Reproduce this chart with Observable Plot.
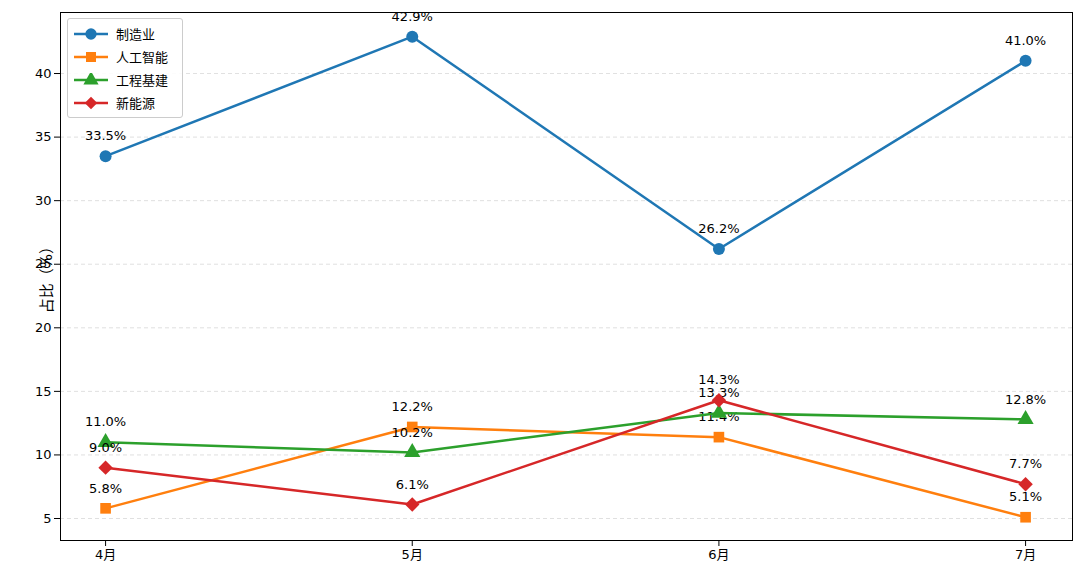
<!DOCTYPE html>
<html><head><meta charset="utf-8">
<script src="https://cdn.jsdelivr.net/npm/d3@7"></script>
<script src="https://cdn.jsdelivr.net/npm/@observablehq/plot@0.6"></script>
<style>
body{margin:0;background:#fff;font-family:"DejaVu Sans","Noto Sans CJK SC",sans-serif}
#wrap{position:relative;width:1080px;height:575px}
#legend{position:absolute;left:67px;top:18px;width:114px;border:1px solid #ccc;border-radius:3px;background:rgba(255,255,255,0.9);padding:3px 0;font-size:13px}
.li{display:flex;align-items:center;height:23px}
.li svg{margin-left:6px;margin-right:8px}
#ylab{position:absolute;left:8px;top:276px;transform:translate(0,-50%) rotate(-90deg);transform-origin:center;font-size:15px;white-space:nowrap}
</style></head><body>
<div id="wrap"><div id="chart"></div><div id="legend"></div><div id="ylab">占比（%）</div></div>
<script>
const months=["4月","5月","6月","7月"];
const seriesNames=["制造业","人工智能","工程基建","新能源"];
const manufacturing=[33.5,42.9,26.2,41.0];
const ai=[5.8,12.2,11.4,5.1];
const infra=[11.0,10.2,13.3,12.8];
const energy=[9.0,6.1,14.3,7.7];
const colors=["#1f77b4","#ff7f0e","#2ca02c","#d62728"];
const symbols=["circle","square","triangle","diamond2"];
const vals=[manufacturing,ai,infra,energy];
const data=[];
vals.forEach((arr,s)=>arr.forEach((v,i)=>data.push({s:seriesNames[s],i,v})));
const marks=[
  Plot.gridY({ticks:[5,10,15,20,25,30,35,40],stroke:"#ccc",strokeDasharray:"4,3",strokeOpacity:0.6}),
  Plot.frame({stroke:"#000"})
];
seriesNames.forEach((n,s)=>{
  const d=data.filter(x=>x.s===n);
  marks.push(Plot.line(d,{x:"i",y:"v",stroke:colors[s],strokeWidth:2.5}));
  marks.push(Plot.dot(d,{x:"i",y:"v",fill:colors[s],symbol:()=>symbols[s],r:s===3?6.5:6}));
  marks.push(Plot.text(d,{x:"i",y:"v",text:x=>x.v.toFixed(1)+"%",dy:-20,fontSize:13,fill:"#000"}));
});
const chart=Plot.plot({
  width:1080,height:575,marginLeft:60,marginRight:8,marginTop:12,marginBottom:35,
  style:{fontSize:"13px",fontFamily:"DejaVu Sans, Noto Sans CJK SC"},
  x:{domain:[-0.147,3.153],ticks:[0,1,2,3],tickFormat:i=>months[i],label:null},
  y:{domain:[3.27,44.8],ticks:[5,10,15,20,25,30,35,40],label:null},
  symbol:{type:"identity"},
  marks
});
document.getElementById("chart").appendChild(chart);
const lg=document.getElementById("legend");
seriesNames.forEach((n,s)=>{
  const sym=d3.symbol(s===3?d3.symbolDiamond2:[d3.symbolCircle,d3.symbolSquare,d3.symbolTriangle][s],100)();
  lg.innerHTML+=`<div class="li"><svg width="34" height="14"><line x1="0" x2="34" y1="7" y2="7" stroke="${colors[s]}" stroke-width="2.5"/><path d="${sym}" transform="translate(17,7)" fill="${colors[s]}"/></svg>${n}</div>`;
});
</script></body></html>
